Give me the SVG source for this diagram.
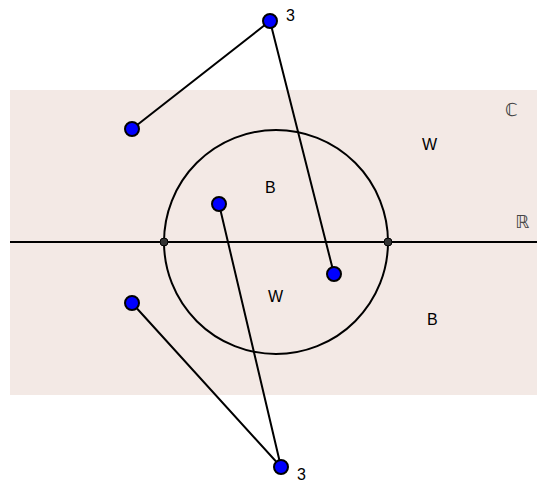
<svg xmlns="http://www.w3.org/2000/svg" width="537" height="482" viewBox="0 0 537 482">
<style>
.pt{fill:#0000ff;stroke:#000;stroke-width:2}
.dot{fill:#333;stroke:#000;stroke-width:1}
.ln{stroke:#000;stroke-width:2;fill:none}
.lbl{font-family:"Liberation Sans",Arial,sans-serif;font-size:16px;fill:#000}
.set{font-family:"DejaVu Sans",sans-serif;font-size:18px;fill:#444}
</style>
<rect x="10" y="90" width="527" height="305" fill="#f3e9e5"/>
<g id="connectors">
<line class="ln" x1="10" y1="242" x2="537" y2="242"/>
<circle class="ln" cx="276" cy="242" r="112"/>
<polyline class="ln" points="132,129 270,21 334,274"/>
<polyline class="ln" points="219,204 281,467 132,303"/>
</g>
<g id="i1"><circle class="dot" cx="164" cy="242" r="4"/></g>
<g id="i2"><circle class="dot" cx="388" cy="242" r="4"/></g>
<g id="p1"><circle class="pt" cx="270" cy="21" r="7"/><text class="lbl" x="286" y="21">3</text></g>
<g id="p2"><circle class="pt" cx="132" cy="129" r="7"/></g>
<g id="p3"><circle class="pt" cx="334" cy="274" r="7"/></g>
<g id="p4"><circle class="pt" cx="219" cy="204" r="7"/></g>
<g id="p5"><circle class="pt" cx="132" cy="303" r="7"/></g>
<g id="p6"><circle class="pt" cx="281" cy="467" r="7"/><text class="lbl" x="297" y="480">3</text></g>
<g id="labels">
<text class="lbl" x="422" y="150">W</text>
<text class="lbl" x="265" y="193">B</text>
<text class="lbl" x="268" y="302">W</text>
<text class="lbl" x="427" y="325">B</text>
<text class="set" x="505" y="116">ℂ</text>
<text class="set" x="515" y="228">ℝ</text>
</g>
</svg>
